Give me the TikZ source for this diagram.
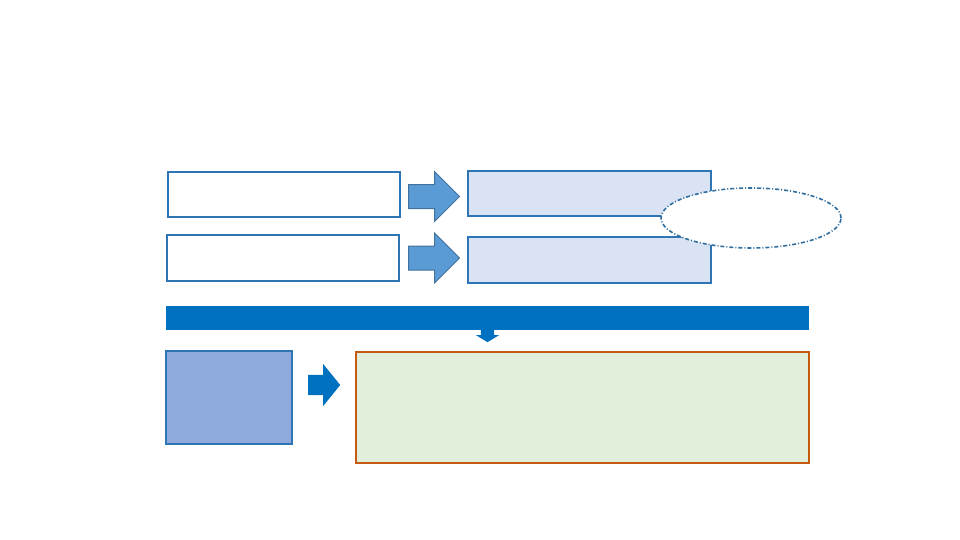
\documentclass[tikz,border=0pt]{standalone}
\usepackage{tikz}
\usetikzlibrary{shapes.geometric, shapes.arrows, positioning}
\definecolor{boxline}{HTML}{2E75B6}
\definecolor{paleblue}{HTML}{DAE3F3}
\definecolor{midblue}{HTML}{8FAADC}
\definecolor{arrowfill}{HTML}{5B9BD5}
\definecolor{arrowline}{HTML}{41719C}
\definecolor{barblue}{HTML}{0070C0}
\definecolor{palegreen}{HTML}{E2EFDA}
\definecolor{rustline}{HTML}{C55A11}
\definecolor{ovalline}{HTML}{2F6E9E}
\tikzset{
  inbox/.style={draw=boxline, fill=#1, line width=1.5pt,
              minimum width=232pt, minimum height=45pt, inner sep=0pt},
  outbox/.style={draw=boxline, fill=paleblue, line width=1.5pt,
              minimum width=243pt, minimum height=45pt, inner sep=0pt},
  blockarr/.style={single arrow, draw=arrowline, fill=arrowfill, line width=1pt,
              inner xsep=0pt, inner ysep=11.5pt, minimum height=51pt,
              single arrow head extend=13pt, single arrow tip angle=90, anchor=tail},
  notebox/.style={ellipse, draw=ovalline, fill=white, line width=1.6pt,
              dash pattern=on 4pt off 2pt on 1pt off 2pt,
              minimum width=180pt, minimum height=60pt, inner sep=0pt},
}

\begin{document}
\begin{tikzpicture}[x=1pt, y=-1pt]
  \useasboundingbox (0,0) rectangle (960,540);

  % Top rows
  \node[inbox=white] (ina) at (284,194.5) {};
  \node[inbox=white, minimum height=46pt] (inb) at (283,258) {};
  \node[blockarr] (arra) at (408,196.5) {};
  \node[blockarr] (arrb) at (408,258) {};
  \node[outbox] (outa) at (589.5,193.5) {};
  \node[outbox, minimum height=46pt] (outb) at (589.5,260) {};

  % Oval note over the boxes
  \node[notebox] (note) at (751,218) {};

  % Bar
  \node[fill=barblue, minimum width=643pt, minimum height=24pt, inner sep=0pt] (bar) at (487.5,318) {};
  \node[single arrow, fill=barblue, rotate=-90, inner xsep=0pt, inner ysep=6.5pt,
        minimum height=13pt, single arrow head extend=5pt, single arrow tip angle=117,
        anchor=tail] (down) at (487.5,329) {};

  % Bottom row
  \node[draw=boxline, fill=midblue, line width=1.5pt, minimum width=126pt,
        minimum height=93pt, inner sep=0pt] (left) at (229,397.5) {};
  \node[single arrow, fill=barblue, inner xsep=0pt, inner ysep=10pt, minimum height=32pt,
        single arrow head extend=11pt, single arrow tip angle=102, anchor=tail] (arrc) at (308,385) {};
  \node[draw=rustline, fill=palegreen, line width=1.5pt, minimum width=453pt,
        minimum height=111pt, inner sep=0pt] (main) at (582.5,407.5) {};
\end{tikzpicture}
\end{document}
